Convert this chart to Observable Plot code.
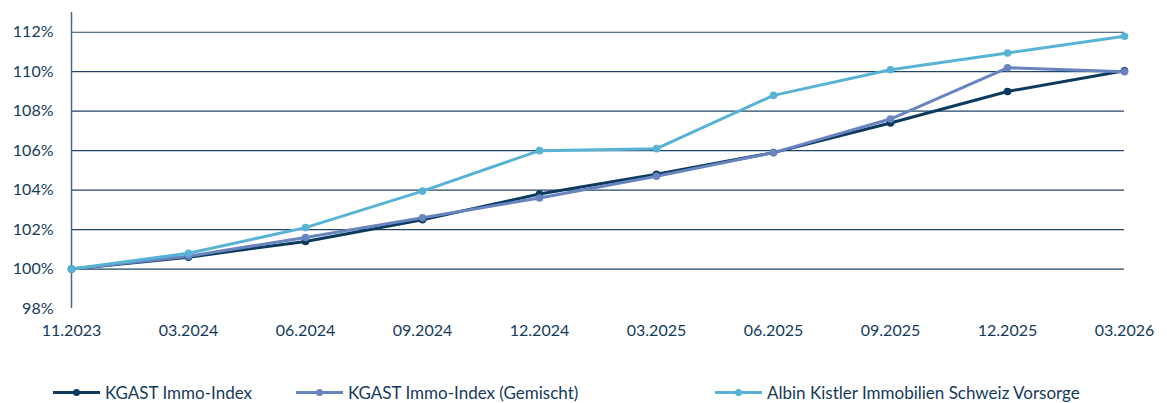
<!DOCTYPE html>
<html>
<head>
<meta charset="utf-8">
<script src="https://cdn.jsdelivr.net/npm/d3@7"></script>
<script src="https://cdn.jsdelivr.net/npm/@observablehq/plot@0.6"></script>
<style>
  html, body { margin: 0; padding: 0; background: #fff; }
  body { width: 1167px; height: 403px; overflow: hidden; font-family: Lato, "Open Sans", sans-serif; color: #143a5c; position: relative; }
  #legend { position: relative; height: 53px; }
  .item { position: absolute; top: 32px; display: flex; align-items: center; font-size: 17px; white-space: nowrap; }
  .sw { position: relative; width: 47px; height: 3px; margin-right: 5px; }
  .sw i { position: absolute; left: 20px; top: -2px; width: 7px; height: 7px; border-radius: 50%; }
</style>
</head>
<body>
<div id="chart"></div>
<div id="legend"></div>
<script>
const dates = ["11.2023","03.2024","06.2024","09.2024","12.2024","03.2025","06.2025","09.2025","12.2025","03.2026"];
const seriesNames = ["KGAST Immo-Index", "KGAST Immo-Index (Gemischt)", "Albin Kistler Immobilien Schweiz Vorsorge"];
const kgast    = [100, 100.6, 101.4, 102.5, 103.8, 104.8, 105.9, 107.4, 109.0, 110.05];
const gemischt = [100, 100.65, 101.6, 102.6, 103.6, 104.7, 105.9, 107.6, 110.2, 110.0];
const albin    = [100, 100.8, 102.1, 103.95, 106.0, 106.1, 108.8, 110.1, 110.95, 111.8];
const colors = ["#0c3a5e", "#6884bf", "#58b2d5"];
const yTicks = [98, 100, 102, 104, 106, 108, 110, 112];
const gridTicks = [100, 102, 104, 106, 108, 110, 112];

const seriesValues = [kgast, gemischt, albin];
const data = seriesValues.flatMap((vals, i) => vals.map((v, j) => ({date: dates[j], value: v, series: seriesNames[i]})));
const firstDate = dates[0];
const lastDate = dates[dates.length - 1];

const chart = Plot.plot({
  width: 1167,
  height: 350,
  marginLeft: 71,
  marginRight: 43,
  marginTop: 12,
  marginBottom: 42,
  style: {fontFamily: "Lato, 'Open Sans', sans-serif", fontSize: "16px", color: "#143a5c", background: "#fff"},
  x: {type: "point", domain: dates, padding: 0, label: null},
  y: {domain: [98, 113], label: null},
  color: {domain: seriesNames, range: colors},
  marks: [
    Plot.ruleY(gridTicks, {y: d => d, x1: () => firstDate, x2: () => lastDate, stroke: "#1f4468", strokeWidth: 1.2}),
    Plot.ruleX([firstDate], {x: d => d, y1: () => 98, y2: () => 113, stroke: "#4c6783", strokeWidth: 1.5}),
    Plot.axisY({ticks: yTicks, tickFormat: d => d + "%", tickSize: 0, tickPadding: 18, fontSize: 16, label: null}),
    Plot.axisX({tickSize: 0, tickPadding: 16, fontSize: 16, label: null}),
    Plot.line(data, {x: "date", y: "value", z: "series", stroke: "series", strokeWidth: 3, strokeLinejoin: "round"}),
    Plot.dot(data, {x: "date", y: "value", fill: "series", r: 3.8, stroke: "none"})
  ]
});
document.getElementById("chart").appendChild(chart);

const legend = document.getElementById("legend");
const lefts = [53, 296, 715];
seriesNames.forEach((name, i) => {
  const it = document.createElement("div");
  it.className = "item";
  it.style.left = lefts[i] + "px";
  const sw = document.createElement("span");
  sw.className = "sw";
  sw.style.background = colors[i];
  const dot = document.createElement("i");
  dot.style.background = colors[i];
  sw.appendChild(dot);
  const t = document.createElement("span");
  t.textContent = name;
  it.appendChild(sw);
  it.appendChild(t);
  legend.appendChild(it);
});
</script>
</body>
</html>
